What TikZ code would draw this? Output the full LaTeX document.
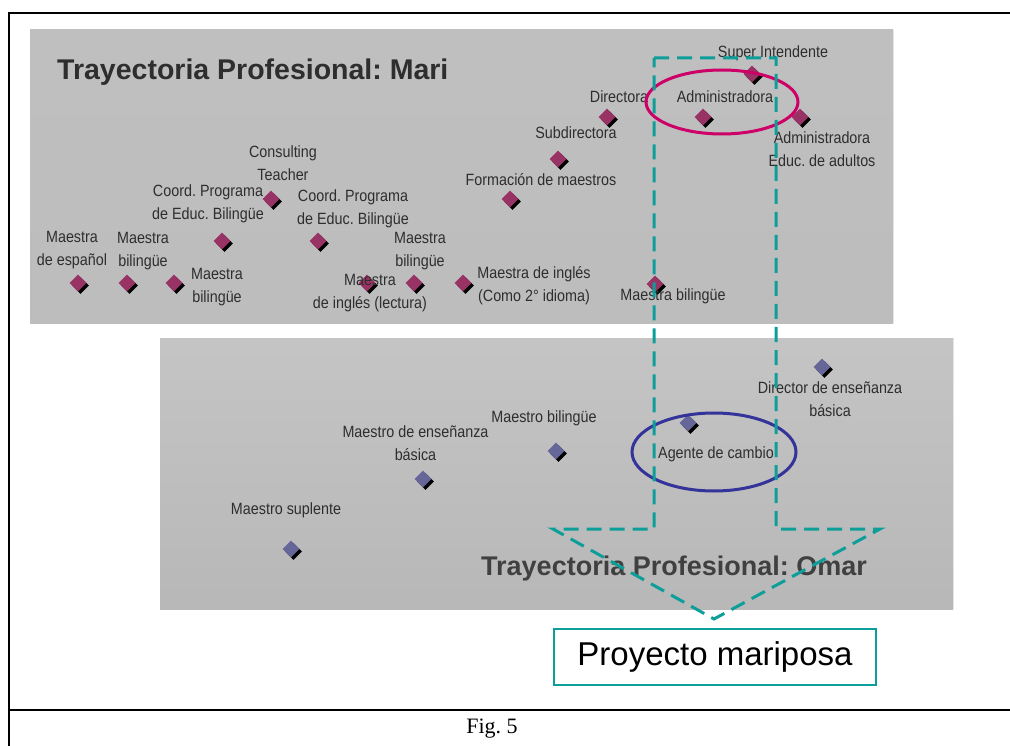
\documentclass[tikz,border=0pt]{standalone}
\usepackage{fontspec}
\setmainfont{Liberation Sans}
\newfontfamily\figserif{Liberation Serif}
\newfontfamily\labfont[FakeStretch=0.88]{Liberation Sans}
\usetikzlibrary{shapes.geometric,shadows}
\definecolor{mari}{HTML}{993366}
\definecolor{omar}{HTML}{666699}
\definecolor{tealdash}{HTML}{0E9E9A}
\definecolor{ringM}{HTML}{CC0066}
\definecolor{ringO}{HTML}{333399}
\definecolor{lbl}{HTML}{2E2E2E}
\tikzset{
  pt/.style={diamond, minimum width=17pt, minimum height=17pt, inner sep=0pt,
    general shadow={fill=black, shadow xshift=2.5pt, shadow yshift=-2.5pt}},
  ptM/.style={pt, fill=mari},
  ptO/.style={pt, fill=omar},
  lab/.style={text=lbl, font=\labfont\fontsize{16.3}{23}\selectfont, align=center, inner sep=0pt},
  ttl/.style={text=lbl, font=\bfseries\fontsize{#1}{#1}\selectfont, inner sep=0pt, anchor=base west},
  frameline/.style={line width=2pt, black},
  tealline/.style={tealdash, line width=3pt, dash pattern=on 15pt off 8pt},
}
\frenchspacing
\begin{document}
\begin{tikzpicture}[x=1pt,y=-1pt]
\useasboundingbox (0,0) rectangle (1010,746);
% frame
\draw[frameline] (9,746) -- (9,13) -- (1010,13);
\draw[frameline] (9,710) -- (1010,710);
% panels
\shade[top color=black!25, middle color=black!17, bottom color=black!26] (30,30) rectangle (893,323);
\draw[black!10, line width=1pt] (893,30) -- (893,323);
\shade[top color=black!23, middle color=black!34, bottom color=black!28] (160,338) rectangle (953,609);
\draw[black!10, line width=1pt] (953,338) -- (953,609);
% titles
\node[ttl=28.5] (tM) at (57,80) {Trayectoria Profesional: Mari};
\node[ttl=27, text=black!75] (tO) at (481,575) {Trayectoria Profesional: Omar};
% Mari points
\node[ptM] (m1) at (78,283) {};
\node[ptM] (m2) at (127,283) {};
\node[ptM] (m3) at (174,283) {};
\node[ptM] (m4) at (222,241) {};
\node[ptM] (m5) at (271,199) {};
\node[ptM] (m6) at (318,241) {};
\node[ptM] (m7) at (367,283) {};
\node[ptM] (m8) at (414,283) {};
\node[ptM] (m9) at (463,283) {};
\node[ptM] (m10) at (510,199) {};
\node[ptM] (m11) at (558,159) {};
\node[ptM] (m12) at (607,117) {};
\node[ptM] (m13) at (655,284) {};
\node[ptM] (m14) at (703,117) {};
\node[ptM] (m15) at (752,74) {};
\node[ptM] (m16) at (800,117) {};
% Mari labels
\node[lab] (lm1) at (72,250.5) {Maestra\\de español};
\node[lab] (lm2) at (143,251.5) {Maestra\\bilingüe};
\node[lab] (lm3) at (217,287.5) {Maestra\\bilingüe};
\node[lab] (lm4) at (208,203.5) {Coord. Programa\\de Educ. Bilingüe};
\node[lab] (lm5) at (283,163.5) {Consulting\\Teacher};
\node[lab] (lm6) at (353,208.5) {Coord. Programa\\de Educ. Bilingüe};
\node[lab] (lm7) at (370,293.5) {Maestra\\de inglés (lectura)};
\node[lab] (lm8) at (420,251.5) {Maestra\\bilingüe};
\node[lab] (lm9) at (534,285.5) {Maestra de inglés\\(Como 2° idioma)};
\node[lab] (lm10) at (541,180) {Formación de maestros};
\node[lab] (lm11) at (576,133) {Subdirectora};
\node[lab] (lm12) at (619,97) {Directora};
\node[lab] (lm13) at (673,296) {Maestra bilingüe};
\node[lab] (lm14) at (725,97) {Administradora};
\node[lab] (lm15) at (773,53) {Super Intendente};
\node[lab] (lm16) at (822,149.5) {Administradora\\Educ. de adultos};
% Omar points
\node[ptO] (o1) at (291,549) {};
\node[ptO] (o2) at (423,479) {};
\node[ptO] (o3) at (556,451) {};
\node[ptO] (o4) at (688,423) {};
\node[ptO] (o5) at (822,367) {};
% Omar labels
\node[lab] (lo1) at (286,510) {Maestro suplente};
\node[lab] (lo2) at (415.5,443.5) {Maestro de enseñanza\\básica};
\node[lab] (lo3) at (544,418) {Maestro bilingüe};
\node[lab] (lo4) at (716,454) {Agente de cambio};
\node[lab] (lo5) at (830,399) {Director de enseñanza\\básica};
% rings
\draw[ringM, line width=3pt] (722,102) ellipse [x radius=76, y radius=32];
\draw[ringO, line width=3pt] (714,452) ellipse [x radius=82, y radius=39];
% dashed arrow
\coordinate (a1) at (654,58);
\coordinate (a2) at (776,58);
\coordinate (a3) at (776,529);
\coordinate (a4) at (880,529);
\coordinate (a5) at (714,619);
\coordinate (a6) at (553,529);
\coordinate (a7) at (654,529);
\draw[tealline, line join=miter] (a1) -- (a2) -- (a3) -- (a4) -- (a5) -- (a6) -- (a7) -- cycle;
% result box
\node[draw=tealdash, line width=2.5pt, minimum width=322pt, minimum height=56pt, inner sep=0pt,
      font=\fontsize{33}{36}\selectfont, text=black] (pm) at (715,657) {Proyecto mariposa};
% caption
\node[font=\figserif\fontsize{22}{24}\selectfont, anchor=base, inner sep=0pt] (cap) at (492,733) {Fig. 5};
\end{tikzpicture}
\end{document}
